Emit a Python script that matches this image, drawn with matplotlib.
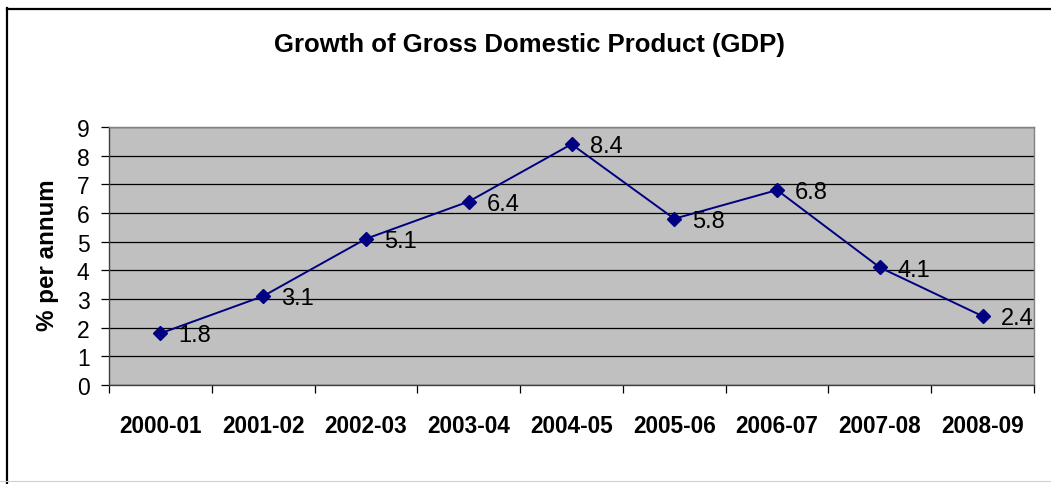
import matplotlib
matplotlib.use("Agg")
import matplotlib.pyplot as plt
from matplotlib.lines import Line2D

categories = ["2000-01", "2001-02", "2002-03", "2003-04", "2004-05",
              "2005-06", "2006-07", "2007-08", "2008-09"]
growth = [1.8, 3.1, 5.1, 6.4, 8.4, 5.8, 6.8, 4.1, 2.4]
title = "Growth of Gross Domestic Product (GDP)"
ylabel = "% per annum"

plt.rcParams['font.family'] = ['Liberation Sans', 'DejaVu Sans']

W, H = 1051, 485
fig = plt.figure(figsize=(W / 100, H / 100), dpi=100)
ax = fig.add_axes([109 / W, 1 - 386 / H, (1034 - 109) / W, (386 - 128) / H])
ax.set_facecolor("#C0C0C0")

x = list(range(len(categories)))
ax.plot(x, growth, color="#000080", lw=1.4, marker="D", ms=7.5,
        markerfacecolor="#000080", markeredgecolor="#000080", zorder=3)
for xi, v in zip(x, growth):
    ax.annotate(f"{v}", (xi, v), xytext=(13, -1.5), textcoords="offset points",
                ha="left", va="center", fontsize=17, color="black", zorder=4)

ax.set_xlim(-0.5, len(categories) - 0.5)
ax.set_ylim(0, 9)
ax.set_yticks(range(0, 10))
ax.yaxis.grid(True, color="black", lw=0.9)
ax.set_axisbelow(True)
ax.tick_params(axis="y", labelsize=16.5, length=6, width=0.9, direction="out", pad=8)

ax.set_xticks(x)
ax.set_xticklabels(categories, fontsize=16.3, fontweight="bold")
ax.tick_params(axis="x", which="major", length=0, pad=21)
ax.set_xticks([i - 0.5 for i in range(len(categories) + 1)], minor=True)
ax.tick_params(axis="x", which="minor", length=6, width=0.9, direction="out")

for s in ["top", "right"]:
    ax.spines[s].set_color("#808080")
    ax.spines[s].set_linewidth(1.0)
for s in ["left", "bottom"]:
    ax.spines[s].set_color("#404040")
    ax.spines[s].set_linewidth(1.0)

fig.text(529 / W, 1 - 45 / H, title, ha="center", va="center",
         fontsize=18.5, fontweight="bold")
fig.text(48 / W, 1 - 255 / H, ylabel, ha="center", va="center",
         rotation=90, fontsize=17.4, fontweight="bold")

# outer chart border (left and top visible)
fig.add_artist(Line2D([7 / W, 7 / W], [0, 1 - 9 / H], transform=fig.transFigure,
                      color="black", lw=1.6))
fig.add_artist(Line2D([7 / W, 1], [1 - 10 / H, 1 - 10 / H], transform=fig.transFigure,
                      color="black", lw=1.6))
fig.add_artist(Line2D([0, 1], [1 - 482 / H, 1 - 482 / H], transform=fig.transFigure,
                      color="#D0D0D0", lw=0.8))

fig.savefig("out.png", dpi=100)
